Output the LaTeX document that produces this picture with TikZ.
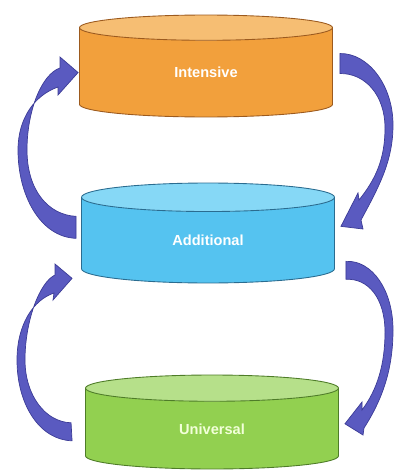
\documentclass[tikz,border=0pt]{standalone}
\usepackage{fontspec}
\newfontfamily\labelfont{Liberation Sans}
\usetikzlibrary{shapes.geometric}
\definecolor{IOrange}{HTML}{F2A03C}
\definecolor{IOrangeTop}{HTML}{F6BE73}
\definecolor{IOrangeLine}{HTML}{9C5A1E}
\definecolor{ABlue}{HTML}{55C3F0}
\definecolor{ABlueTop}{HTML}{86D8F6}
\definecolor{ABlueLine}{HTML}{2A6C90}
\definecolor{UGreen}{HTML}{92D050}
\definecolor{UGreenTop}{HTML}{B6E08A}
\definecolor{UGreenLine}{HTML}{4E7C28}
\definecolor{UText}{HTML}{F2FFD9}
\definecolor{CArrow}{HTML}{5A5AC0}
\definecolor{CArrowLine}{HTML}{3C3C96}
\tikzset{
    drum/.style = {cylinder, shape border rotate=90, aspect=0.4, draw,
        line width=0.5pt, cylinder uses custom fill, anchor=shape center,
        minimum width=5.06cm, minimum height=2cm, inner sep=0pt,
        font=\labelfont\bfseries\fontsize{8.3}{10}\selectfont, text=white},
    curved/.style = {fill=CArrow, draw=CArrowLine, line width=0.4pt}
}
\begin{document}
\begin{tikzpicture}[x=0.02cm,y=-0.02cm]
    \useasboundingbox (0,0) rectangle (394,470);
    % the three levels
    \node [drum, draw=IOrangeLine, cylinder body fill=IOrange, cylinder end fill=IOrangeTop,
        minimum height=2.04cm] (int) at (206,66) {Intensive};
    \node [drum, draw=ABlueLine, cylinder body fill=ABlue, cylinder end fill=ABlueTop] (add) at (208,233) {Additional};
    \node [drum, draw=UGreenLine, cylinder body fill=UGreen, cylinder end fill=UGreenTop,
        minimum height=1.88cm, text=UText] (uni) at (212,422) {Universal};
    % left side, going up
    \fill [curved] ([shift={(-5,-2)}]add.west) .. controls (40,237) and (18,195) .. (18,150)
        .. controls (18,118) and (35,95) .. (58,87) -- (58,95) -- ([shift={(-1,0)}]int.west) -- (60,57) -- (60,68)
        .. controls (42,74) and (27,110) .. (27,150) .. controls (27,190) and (48,215) .. ([shift={(-5,-24)}]add.west) -- cycle;
    \fill [curved] ([shift={(-13,12)}]uni.west) .. controls (40,440) and (17,405) .. (17,360)
        .. controls (17,325) and (33,300) .. (54,293) -- (53,300) -- ([shift={(-9,38)}]add.west) -- (55,264) -- (55,275)
        .. controls (40,282) and (25,320) .. (25,360) .. controls (25,395) and (45,422) .. ([shift={(-14,-6)}]uni.west) -- cycle;
    % right side, going down
    \fill [curved] ([shift={(7,-19)}]int.east) .. controls (368,53) and (393,85) .. (393,125)
        .. controls (393,160) and (380,185) .. (361,220) -- (363,229) -- ([shift={(6,-14)}]add.east) -- (358,193) -- (359,200)
        .. controls (375,180) and (385,160) .. (385,128) .. controls (385,95) and (365,73) .. ([shift={(7,1)}]int.east) -- cycle;
    \fill [curved] ([shift={(11,21)}]add.east) .. controls (372,260) and (393,290) .. (393,330)
        .. controls (393,370) and (382,400) .. (364,428) -- (363,435) -- ([shift={(6,-5)}]uni.east) -- (362,402) -- (362,410)
        .. controls (377,390) and (385,365) .. (385,332) .. controls (385,298) and (368,278) .. ([shift={(11,39)}]add.east) -- cycle;
\end{tikzpicture}
\end{document}
